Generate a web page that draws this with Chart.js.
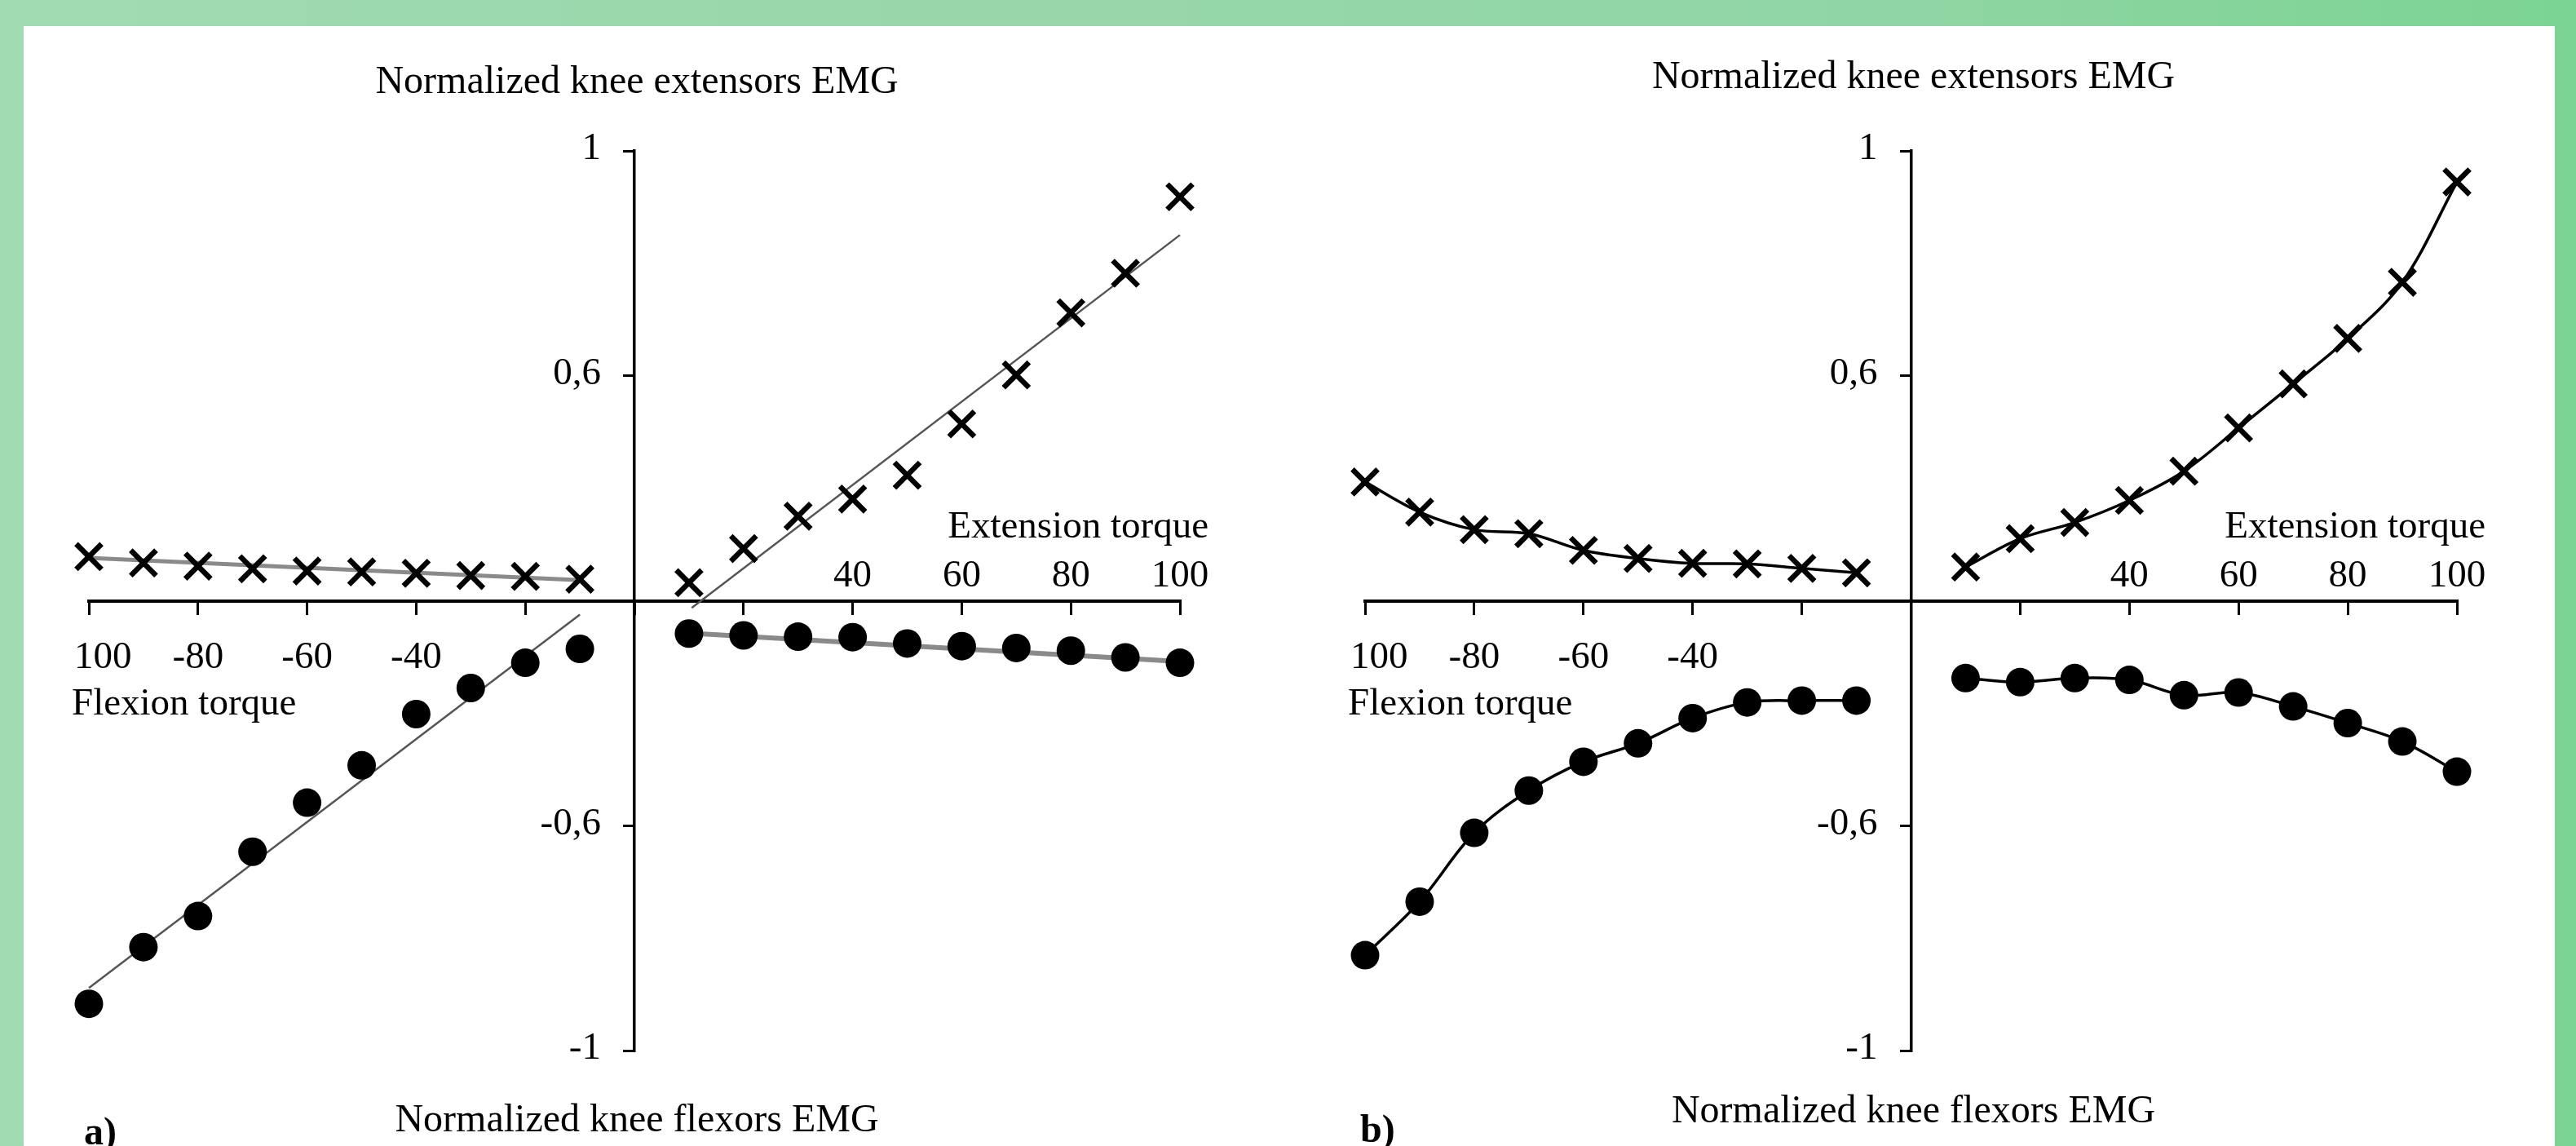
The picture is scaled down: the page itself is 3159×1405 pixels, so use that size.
<!DOCTYPE html>
<html>
<head>
<meta charset="utf-8">
<script src="https://cdn.jsdelivr.net/npm/chart.js@4/dist/chart.umd.min.js"></script>
<style>
  html, body { margin: 0; padding: 0; }
  body {
    width: 3159px; height: 1405px; position: relative; overflow: hidden;
    background: linear-gradient(90deg, #a1dbb1 0%, #98d7aa 40%, #8fd5a3 75%, #7bd493 100%);
  }
  #panel { position: absolute; left: 29px; top: 32px; width: 3104px; height: 1373px; background: #ffffff; }
  canvas { position: absolute; top: 0; }
  #ca { left: 0; }
  #cb { left: 1580px; }
</style>
</head>
<body>
<div id="panel"></div>
<canvas id="ca" width="1580" height="1405"></canvas>
<canvas id="cb" width="1579" height="1405"></canvas>
<script>
// ---------- data ----------
const flexionTorque   = [-100, -90, -80, -70, -60, -50, -40, -30, -20, -10];
const extensionTorque = [10, 20, 30, 40, 50, 60, 70, 80, 90, 100];

// panel a)
const aExtensorsFlexion   = [0.098, 0.084, 0.077, 0.071, 0.066, 0.064, 0.061, 0.056, 0.054, 0.048];
const aExtensorsExtension = [0.040, 0.116, 0.188, 0.226, 0.279, 0.393, 0.502, 0.640, 0.728, 0.898];
const aFlexorsFlexion     = [-0.896, -0.770, -0.701, -0.558, -0.449, -0.366, -0.252, -0.194, -0.138, -0.107];
const aFlexorsExtension   = [-0.073, -0.077, -0.080, -0.081, -0.095, -0.101, -0.105, -0.111, -0.126, -0.138];
// linear trend lines of panel a) (end points)
const aTrendExtFlexX = [-100, -10], aTrendExtFlexY = [0.095, 0.046];
const aTrendExtExtX  = [10.5, 100], aTrendExtExtY  = [-0.016, 0.813];
const aTrendFlxFlexX = [-100, -10], aTrendFlxFlexY = [-0.861, -0.031];
const aTrendFlxExtX  = [10, 100],   aTrendFlxExtY  = [-0.072, -0.135];

// panel b)
const bExtensorsFlexion   = [0.264, 0.197, 0.158, 0.149, 0.112, 0.094, 0.083, 0.082, 0.072, 0.062];
const bExtensorsExtension = [0.075, 0.138, 0.174, 0.223, 0.288, 0.384, 0.482, 0.583, 0.708, 0.931];
const bFlexorsFlexion     = [-0.788, -0.669, -0.516, -0.422, -0.358, -0.317, -0.261, -0.226, -0.222, -0.222];
const bFlexorsExtension   = [-0.172, -0.181, -0.172, -0.176, -0.210, -0.204, -0.235, -0.272, -0.313, -0.380];

// tick labels
const yTickValues = [1, 0.5, 0, -0.5, -1];
const yTickLabels = ['1', '0,6', '', '-0,6', '-1'];
const xBottomTickValues = [-100, -80, -60, -40];
const xBottomTickLabels = ['100', '-80', '-60', '-40'];
const xTopTickValues = [40, 60, 80, 100];
const xTopTickLabels = ['40', '60', '80', '100'];

const titleTop = 'Normalized knee extensors EMG';
const titleBottom = 'Normalized knee flexors EMG';
const extLabel = 'Extension torque';
const flexLabel = 'Flexion torque';

// ---------- helpers ----------
const FONT = '"Liberation Serif", "Times New Roman", Times, serif';
const pts = (xs, ys) => xs.map((x, i) => ({x: x, y: ys[i]}));

function crossSet(data, line) {
  return {
    data: data, order: 1, clip: false,
    pointStyle: 'crossRot', pointRadius: 22, pointBorderWidth: 6.5,
    pointBorderColor: '#000', pointBackgroundColor: '#000',
    showLine: !!line, borderColor: '#000', borderWidth: 3.5, tension: 0.35
  };
}
function dotSet(data, line) {
  return {
    data: data, order: 1, clip: false,
    pointStyle: 'circle', pointRadius: 17.5, pointBorderWidth: 0,
    pointBackgroundColor: '#000', pointBorderColor: '#000',
    showLine: !!line, borderColor: '#000', borderWidth: 3.5, tension: 0.35
  };
}
function trendSet(data, color, width) {
  return {
    data: data, order: 2, clip: false, showLine: true,
    pointRadius: 0, borderColor: color, borderWidth: width, tension: 0
  };
}

function textPlugin(cfg) {
  return {
    id: 'texts',
    afterDraw(chart) {
      const ctx = chart.ctx, xs = chart.scales.x, ys = chart.scales.y;
      const x0 = xs.getPixelForValue(0), y0 = ys.getPixelForValue(0);
      ctx.save();
      ctx.fillStyle = '#000';
      ctx.font = '47px ' + FONT;
      ctx.textBaseline = 'middle';
      ctx.textAlign = 'right';
      yTickValues.forEach((v, i) => {
        if (yTickLabels[i]) ctx.fillText(yTickLabels[i], x0 - 41, ys.getPixelForValue(v) - 2);
      });
      ctx.textBaseline = 'alphabetic';
      xBottomTickValues.forEach((v, i) => {
        const px = xs.getPixelForValue(v);
        if (i === 0) { ctx.textAlign = 'left'; ctx.fillText(xBottomTickLabels[i], px - 18, y0 + 82); }
        else { ctx.textAlign = 'center'; ctx.fillText(xBottomTickLabels[i], px, y0 + 82); }
      });
      ctx.textAlign = 'center';
      xTopTickValues.forEach((v, i) => {
        ctx.fillText(xTopTickLabels[i], xs.getPixelForValue(v), y0 - 18);
      });
      ctx.textAlign = 'right';
      ctx.fillText(extLabel, xs.right + 35, y0 - 78);
      ctx.textAlign = 'left';
      ctx.fillText(flexLabel, xs.left - 21, y0 + 139);
      ctx.font = '48px ' + FONT;
      ctx.textAlign = 'center';
      ctx.fillText(titleTop, x0 + 3, cfg.topBaseline);
      ctx.fillText(titleBottom, x0 + 3, cfg.bottomBaseline);
      ctx.font = 'bold 48px ' + FONT;
      ctx.textAlign = 'left';
      ctx.fillText(cfg.panel, xs.left - 6, cfg.panelBaseline);
      ctx.restore();
    }
  };
}

function makeChart(id, datasets, pad, cfg) {
  return new Chart(document.getElementById(id), {
    type: 'scatter',
    data: { datasets: datasets },
    plugins: [textPlugin(cfg)],
    options: {
      responsive: false, animation: false, devicePixelRatio: 1, events: [],
      layout: { padding: pad },
      plugins: { legend: { display: false }, tooltip: { enabled: false }, title: { display: false } },
      scales: {
        x: {
          type: 'linear', min: -100, max: 100, position: { y: 0 },
          ticks: { display: false, stepSize: 20 },
          grid: { drawOnChartArea: false, drawTicks: true, tickLength: 15, lineWidth: 3, color: '#000' },
          border: { display: true, color: '#000', width: 4 }
        },
        y: {
          type: 'linear', min: -1, max: 1, position: { x: 0 },
          afterBuildTicks: (s) => { s.ticks = yTickValues.map(v => ({ value: v })); },
          ticks: { display: false },
          grid: { drawOnChartArea: false, drawTicks: true, tickLength: 12, lineWidth: 3, color: '#000' },
          border: { display: true, color: '#000', width: 3.5 }
        }
      }
    }
  });
}

// ---------- panel a ----------
makeChart('ca', [
  crossSet(pts(flexionTorque, aExtensorsFlexion)),
  crossSet(pts(extensionTorque, aExtensorsExtension)),
  dotSet(pts(flexionTorque, aFlexorsFlexion)),
  dotSet(pts(extensionTorque, aFlexorsExtension)),
  trendSet(pts(aTrendExtFlexX, aTrendExtFlexY), '#8a8a8a', 5),
  trendSet(pts(aTrendExtExtX, aTrendExtExtY), '#555555', 2.5),
  trendSet(pts(aTrendFlxFlexX, aTrendFlxFlexY), '#555555', 2.5),
  trendSet(pts(aTrendFlxExtX, aTrendFlxExtY), '#8a8a8a', 6)
], { left: 109, right: 133, top: 185, bottom: 117 },
   { panel: 'a)', topBaseline: 114, bottomBaseline: 1387, panelBaseline: 1403 });

// ---------- panel b ----------
makeChart('cb', [
  crossSet(pts(flexionTorque, bExtensorsFlexion), true),
  crossSet(pts(extensionTorque, bExtensorsExtension), true),
  dotSet(pts(flexionTorque, bFlexorsFlexion), true),
  dotSet(pts(extensionTorque, bFlexorsExtension), true)
], { left: 94, right: 146, top: 185, bottom: 117 },
   { panel: 'b)', topBaseline: 108, bottomBaseline: 1376, panelBaseline: 1400 });
</script>
</body>
</html>
